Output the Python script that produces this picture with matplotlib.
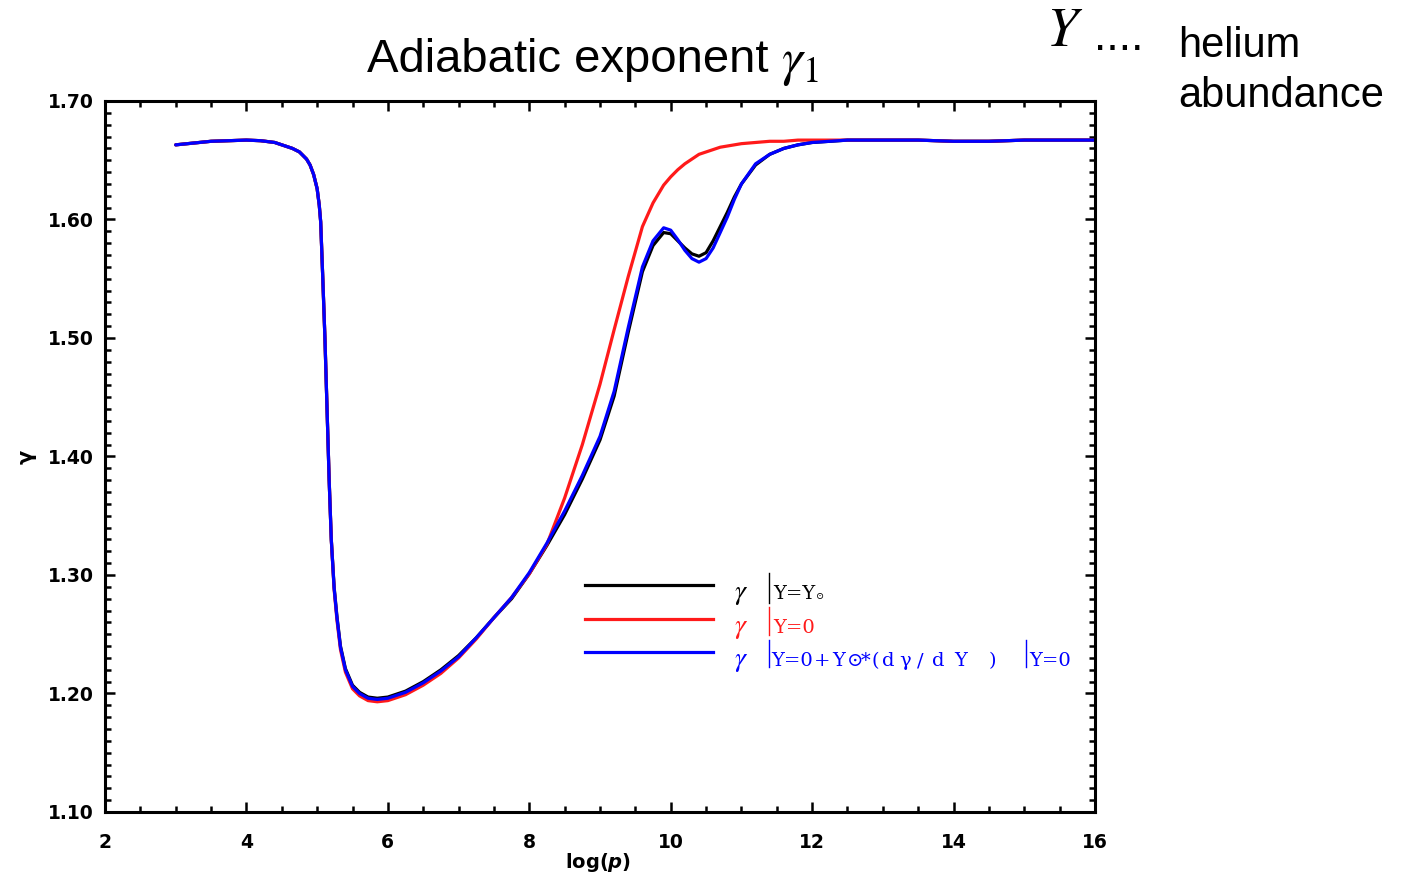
import matplotlib
matplotlib.use("Agg")
import matplotlib.pyplot as plt
from matplotlib.lines import Line2D
from matplotlib.ticker import MultipleLocator, FormatStrFormatter

# ---------------- data ----------------
log_p = [3.0, 3.5, 4.0, 4.2, 4.4, 4.5, 4.65, 4.75, 4.85, 4.9, 4.95, 5.0, 5.03, 5.05,
         5.08, 5.11, 5.14, 5.17, 5.20, 5.24, 5.28, 5.33, 5.40, 5.50, 5.60, 5.72,
         5.85, 6.0, 6.25, 6.5, 6.75, 7.0, 7.25, 7.5, 7.75, 8.0, 8.25, 8.5, 8.75,
         9.0, 9.2, 9.4, 9.6, 9.75, 9.9, 10.0, 10.1, 10.2, 10.3, 10.4, 10.5, 10.6,
         10.7, 10.8, 10.9, 11.0, 11.2, 11.4, 11.6, 11.8, 12.0, 12.5, 13.0, 13.5,
         14.0, 14.5, 15.0, 16.0]

gamma_Ysun = [1.663, 1.666, 1.667, 1.6665, 1.665, 1.663, 1.660, 1.657, 1.651, 1.646,
              1.638, 1.626, 1.612, 1.598, 1.550, 1.500, 1.440, 1.380, 1.330, 1.290,
              1.265, 1.240, 1.221, 1.207, 1.201, 1.197, 1.196, 1.197, 1.202, 1.210,
              1.220, 1.232, 1.247, 1.264, 1.280, 1.301, 1.325, 1.351, 1.381, 1.414,
              1.451, 1.505, 1.556, 1.578, 1.589, 1.588, 1.582, 1.576, 1.571, 1.569,
              1.572, 1.582, 1.594, 1.606, 1.619, 1.630, 1.646, 1.655, 1.660, 1.663,
              1.665, 1.667, 1.667, 1.667, 1.666, 1.666, 1.667, 1.667]

gamma_Y0 = [1.663, 1.666, 1.667, 1.6665, 1.665, 1.663, 1.660, 1.657, 1.651, 1.646,
            1.638, 1.626, 1.612, 1.598, 1.550, 1.500, 1.440, 1.380, 1.330, 1.288,
            1.262, 1.237, 1.218, 1.204, 1.198, 1.194, 1.193, 1.194, 1.199, 1.207,
            1.217, 1.230, 1.246, 1.264, 1.281, 1.301, 1.326, 1.365, 1.410, 1.461,
            1.507, 1.552, 1.594, 1.614, 1.629, 1.636, 1.642, 1.647, 1.651, 1.655,
            1.657, 1.659, 1.661, 1.662, 1.663, 1.664, 1.665, 1.666, 1.666, 1.667,
            1.667, 1.667, 1.667, 1.667, 1.666, 1.666, 1.667, 1.667]

gamma_lin = [1.663, 1.666, 1.667, 1.6665, 1.665, 1.663, 1.660, 1.657, 1.651, 1.646,
             1.638, 1.626, 1.612, 1.598, 1.550, 1.500, 1.440, 1.380, 1.330, 1.289,
             1.264, 1.239, 1.220, 1.206, 1.200, 1.196, 1.195, 1.196, 1.201, 1.209,
             1.219, 1.231, 1.247, 1.264, 1.281, 1.302, 1.327, 1.354, 1.384, 1.417,
             1.455, 1.509, 1.560, 1.582, 1.593, 1.591, 1.583, 1.574, 1.567, 1.564,
             1.567, 1.576, 1.589, 1.602, 1.617, 1.630, 1.647, 1.655, 1.660, 1.663,
             1.665, 1.667, 1.667, 1.667, 1.666, 1.666, 1.667, 1.667]

x_ticks = [2, 4, 6, 8, 10, 12, 14, 16]
y_ticks = [1.10, 1.20, 1.30, 1.40, 1.50, 1.60, 1.70]

# ---------------- figure ----------------
W, H = 1402, 881
fig = plt.figure(figsize=(W / 100, H / 100), dpi=100)
fig.patch.set_facecolor("white")


def P(px, py):
    return (px / W, 1 - py / H)


ax_left, ax_right, ax_top, ax_bot = 105, 1095, 101, 812
ax = fig.add_axes([ax_left / W, 1 - ax_bot / H, (ax_right - ax_left) / W, (ax_bot - ax_top) / H])

lw = 2.3
ax.plot(log_p, gamma_Ysun, color="black", lw=lw, solid_capstyle="round", solid_joinstyle="round")
ax.plot(log_p, gamma_Y0, color="#ff1a1a", lw=lw, solid_capstyle="round", solid_joinstyle="round")
ax.plot(log_p, gamma_lin, color="#0000ff", lw=lw, solid_capstyle="round", solid_joinstyle="round")

ax.set_xlim(2, 16)
ax.set_ylim(1.10, 1.70)
ax.set_xticks(x_ticks)
ax.set_yticks(y_ticks)
ax.xaxis.set_minor_locator(MultipleLocator(0.5))
ax.yaxis.set_minor_locator(MultipleLocator(0.01))
ax.yaxis.set_major_formatter(FormatStrFormatter("%.2f"))
ax.tick_params(which="both", direction="in", top=True, right=True, width=1.8,
               labelsize=13.5)
ax.tick_params(which="major", length=7)
ax.tick_params(axis="x", which="major", pad=15)
ax.tick_params(axis="y", which="major", pad=8)
ax.tick_params(which="minor", length=4.5)
for lab in ax.get_xticklabels() + ax.get_yticklabels():
    lab.set_fontweight("bold")
    lab.set_family("DejaVu Sans")
for s in ax.spines.values():
    s.set_linewidth(2.2)

# axis labels
plt.rcParams["mathtext.rm"] = "DejaVu Sans:bold"
plt.rcParams["mathtext.it"] = "DejaVu Sans:bold:italic"
fig.text(*P(598, 862), r"$\mathrm{log(}p\mathrm{)}$", ha="center", va="center",
         fontsize=14, math_fontfamily="custom")
fig.text(*P(27, 457), "γ", ha="center", va="center", rotation=90,
         fontsize=15, fontweight="bold", family="DejaVu Sans")

# title
fig.text(*P(367, 60), "Adiabatic exponent ", ha="left", va="center",
         fontsize=34, family="Liberation Sans")
fig.text(*P(781, 62), r"$\gamma_1$", ha="left", va="center",
         fontsize=38, math_fontfamily="stix")

# top-right note
fig.text(*P(1046, 31), r"$Y$", ha="left", va="center", fontsize=40,
         math_fontfamily="stix")
fig.text(*P(1094, 50), "....", ha="left", va="baseline",
         fontsize=32, family="Liberation Sans")
fig.text(*P(1178, 57), "helium", ha="left", va="baseline", fontsize=30,
         family="Liberation Sans")
fig.text(*P(1178, 107), "abundance", ha="left", va="baseline", fontsize=30,
         family="Liberation Sans")

# ---------------- custom legend ----------------
serif = ["DejaVu Serif", "DejaVu Sans"]
leg_rows = [
    (585, 599, "black", [("Y=Y", 773)], 573, 603),
    (619, 633, "#ff1a1a", [("Y=0", 773)], 607, 635),
    (652, 666, "#0000ff",
     [("Y=0", 771), ("+", 814), ("Y", 832), ("⊙", 847), ("*", 861), ("(", 872),
      ("d", 882), ("γ", 899), ("/", 917), ("d", 932), ("Y", 954), (")", 989),
      ("Y=0", 1029)], 640, 667),
]
for ly, base, col, pieces, b0, b1 in leg_rows:
    fig.add_artist(Line2D([585 / W, 713 / W], [1 - ly / H, 1 - ly / H],
                          color=col, lw=lw, transform=fig.transFigure))
    fig.text(*P(734, base), r"$\gamma$", ha="left", va="baseline", fontsize=20,
             color=col, math_fontfamily="stix")
    fig.add_artist(Line2D([769 / W, 769 / W], [1 - b0 / H, 1 - b1 / H],
                          color=col, lw=1.0, transform=fig.transFigure))
    for txt, px in pieces:
        fig.text(*P(px, base), txt, ha="left", va="baseline", fontsize=14,
                 color=col, family=serif)
    if col == "black":
        fig.text(*P(816, base), "⊙", ha="left", va="baseline", fontsize=7,
                 color=col, family=serif)
    if col == "#0000ff":
        fig.add_artist(Line2D([1026 / W, 1026 / W], [1 - b0 / H, 1 - b1 / H],
                              color=col, lw=1.0, transform=fig.transFigure))

fig.savefig("out.png", dpi=100, facecolor="white")
